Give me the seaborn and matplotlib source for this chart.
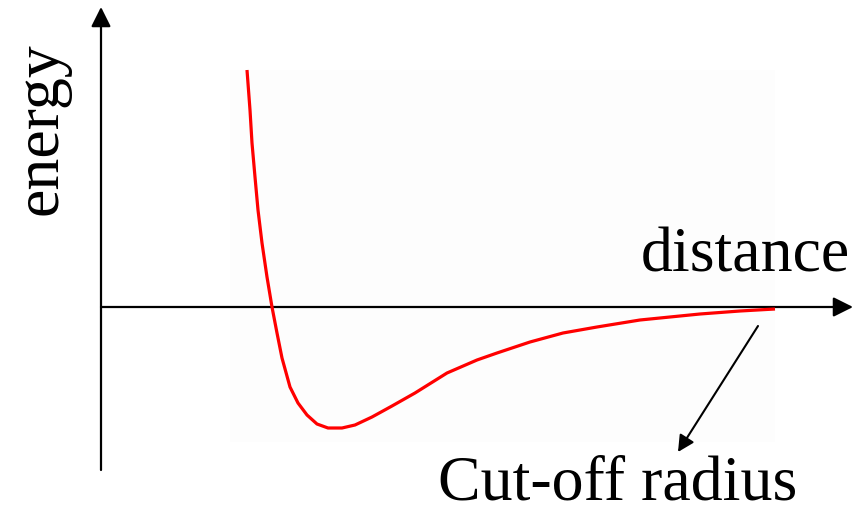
import matplotlib
matplotlib.use("Agg")
import matplotlib.pyplot as plt
import seaborn as sns
import pandas as pd
from matplotlib.patches import Rectangle

# potential curve (arbitrary units)
distance = [1.46, 1.49, 1.51, 1.54, 1.57, 1.61, 1.66, 1.71, 1.76, 1.81,
            1.89, 1.97, 2.06, 2.16, 2.27, 2.41, 2.54, 2.71, 2.91, 3.14,
            3.46, 3.76, 3.96, 4.29, 4.62, 4.96, 5.39, 5.99, 6.39, 6.74]
energy = [2.37, 1.97, 1.64, 1.30, 0.97, 0.64, 0.30, 0.0, -0.26, -0.51,
          -0.80, -0.96, -1.08, -1.17, -1.21, -1.21, -1.18, -1.10, -0.99,
          -0.86, -0.66, -0.53, -0.46, -0.35, -0.26, -0.20, -0.13, -0.07,
          -0.04, -0.02]

cutoff = 6.57
x_label = "distance"
y_label = "energy"
cutoff_label = "Cut-off radius"

df = pd.DataFrame({"distance": distance, "energy": energy})

sns.set_theme(style="white")
plt.rcParams['font.family'] = ['Liberation Serif', 'DejaVu Serif']

fig = plt.figure(figsize=(8.63, 5.15), dpi=100)
ax = fig.add_axes([0, 0, 1, 1])
ax.set_xlim(-1.01, 7.62)
ax.set_ylim(-2.08, 3.07)
ax.set_axis_off()

# faint backdrop behind the curve
ax.add_patch(Rectangle((1.29, -1.35), 5.45, 3.72, facecolor="#fdfdfd",
                       edgecolor="none", zorder=0))

sns.lineplot(data=df, x="distance", y="energy", sort=False, estimator=None,
             color="red", linewidth=2.3, ax=ax, zorder=3,
             solid_joinstyle="round", solid_capstyle="butt")

arrow = dict(arrowstyle="-|>,head_length=0.6,head_width=0.3", color="black",
             lw=1.6, shrinkA=0, shrinkB=0, mutation_scale=20)
# axes
ax.annotate("", xy=(7.52, 0), xytext=(0, 0), arrowprops=arrow, zorder=2)
ax.annotate("", xy=(0, 3.0), xytext=(0, -1.63), arrowprops=arrow, zorder=2)
# cut-off pointer
ax.annotate("", xy=(5.77, -1.45), xytext=(cutoff, -0.19),
            arrowprops=dict(arrowstyle="-|>,head_length=0.55,head_width=0.28",
                            color="black", lw=1.5, shrinkA=0, shrinkB=0,
                            mutation_scale=18))

ax.text(-0.59, 1.78, y_label, rotation=90, fontsize=46, ha="center",
        va="center", color="black")
ax.text(5.40, 0.35, x_label, fontsize=46, ha="left", va="baseline",
        color="black")
ax.text(3.37, -1.92, cutoff_label, fontsize=46, ha="left", va="baseline",
        color="black")

plt.savefig("out.png", dpi=100)
